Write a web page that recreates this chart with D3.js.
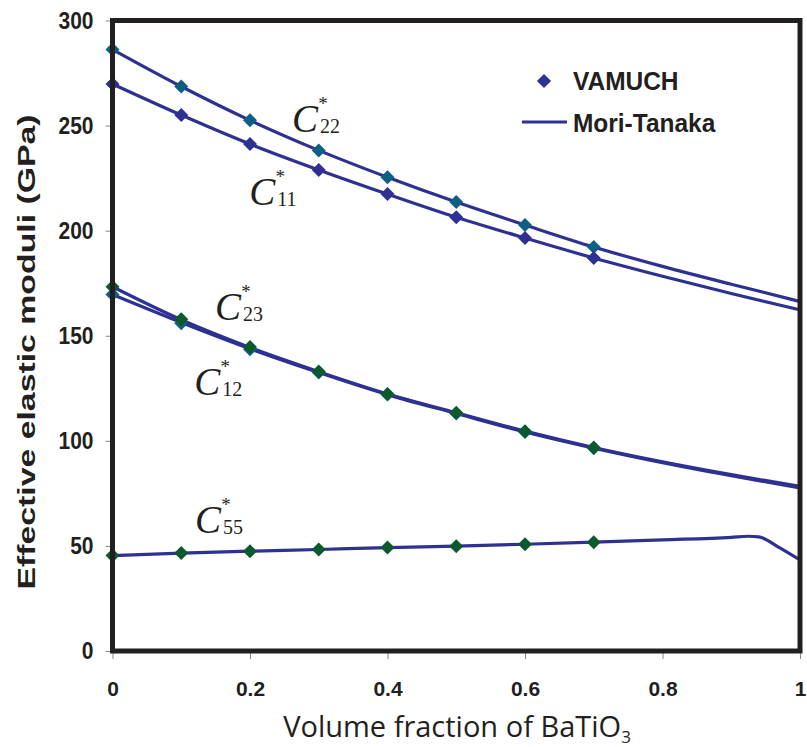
<!DOCTYPE html>
<html>
<head>
<meta charset="utf-8">
<script src="https://cdn.jsdelivr.net/npm/d3@7"></script>
<style>
  html, body { margin: 0; padding: 0; background: #fff; }
  svg { display: block; }
</style>
</head>
<body>
<svg id="chart" width="807" height="747"></svg>
<script>
// ---------- data ----------
const xTicks = [0, 0.2, 0.4, 0.6, 0.8, 1];
const xTickLabels = ["0", "0.2", "0.4", "0.6", "0.8", "1"];
const yTicks = [0, 50, 100, 150, 200, 250, 300];

// VAMUCH results (diamonds)
const vamX   = [0, 0.1, 0.2, 0.3, 0.4, 0.5, 0.6, 0.7];
const vamC22 = [286.2, 268.6, 252.5, 238.2, 225.4, 213.6, 202.7, 192.2];
const vamC11 = [269.8, 255.0, 241.2, 228.9, 217.4, 206.4, 196.5, 187.0];
const vamC12 = [169.6, 156.0, 143.6, 132.5, 122.0, 113.0, 104.2, 96.5];
const vamC23 = [173.3, 157.9, 144.6, 133.0, 122.3, 113.4, 104.6, 96.8];
const vamC55 = [45.4, 46.6, 47.5, 48.3, 49.2, 49.9, 50.8, 51.8];

// Mori-Tanaka predictions (lines)
const mtX   = [0, 0.1, 0.2, 0.3, 0.4, 0.5, 0.6, 0.7, 0.8, 0.9, 1.0];
const mtC22 = [286.2, 268.6, 252.5, 238.2, 225.4, 213.6, 202.7, 192.2, 183.0, 174.5, 166.3];
const mtC11 = [269.8, 255.0, 241.2, 228.9, 217.4, 206.4, 196.5, 187.0, 178.3, 170.1, 162.3];
const mtC12 = [169.6, 156.3, 143.8, 132.5, 122.0, 113.0, 104.2, 96.5, 89.6, 83.4, 77.6];
const mtC23 = [173.3, 157.6, 144.4, 132.9, 122.3, 113.4, 104.6, 96.8, 90.0, 83.9, 78.3];
const mtC55X = [0, 0.1, 0.2, 0.3, 0.4, 0.5, 0.6, 0.7, 0.8, 0.9, 0.925, 0.94, 0.97, 1.0];
const mtC55  = [45.4, 46.6, 47.5, 48.3, 49.2, 49.9, 50.8, 51.8, 52.9, 54.1, 54.6, 54.3, 49.2, 43.3];

// curve labels: subscript, anchor (data coords of the "C" left/baseline)
const labelNames = ["22", "11", "23", "12", "55"];
const labelX     = [0.261, 0.199, 0.149, 0.119, 0.120];
const labelY     = [247.0, 212.2, 157.5, 121.8, 56.1];

const legendNames = ["VAMUCH", "Mori-Tanaka"];

// ---------- styling ----------
const lineColor = "#2e3192";
const teal = "#0d5f83";
const green = "#0a5a2d";
const navy = "#2e3192";
const ink = "#231f20";

// ---------- layout ----------
const svg = d3.select("#chart");
const mLeft = 112.5, mRight = 800, mTop = 20.5, mBottom = 651;
const x = d3.scaleLinear().domain([0, 1]).range([mLeft, mRight]);
const y = d3.scaleLinear().domain([0, 300]).range([mBottom, mTop]);

// ticks + labels via axes
const xAxis = d3.axisBottom(x).tickValues(xTicks).tickSize(8).tickPadding(22)
  .tickFormat((d, i) => xTickLabels[i]);
const gx = svg.append("g").attr("transform", `translate(0,${mBottom})`).call(xAxis);
gx.select(".domain").remove();
gx.selectAll(".tick line").attr("stroke", "#888").attr("stroke-width", 1);
gx.selectAll(".tick text")
  .attr("font-family", "Liberation Sans, Arial, sans-serif")
  .attr("font-weight", "bold").attr("font-size", 21).attr("fill", ink);

const yAxis = d3.axisLeft(y).tickValues(yTicks).tickSize(7).tickPadding(12);
const gy = svg.append("g").attr("transform", `translate(${mLeft},0)`).call(yAxis);
gy.select(".domain").remove();
gy.selectAll(".tick line").attr("stroke", "#888").attr("stroke-width", 1);
gy.selectAll(".tick text")
  .attr("font-family", "Liberation Sans, Arial, sans-serif")
  .attr("font-weight", "bold").attr("font-size", 21).attr("fill", ink)
  .attr("transform", "scale(1,1.13)");

// lines
const line = d3.line().x(d => x(d[0])).y(d => y(d[1])).curve(d3.curveMonotoneX);
const mtSeries = [
  d3.zip(mtX, mtC22), d3.zip(mtX, mtC11),
  d3.zip(mtX, mtC12), d3.zip(mtX, mtC23),
  d3.zip(mtC55X, mtC55)
];
svg.append("g").selectAll("path").data(mtSeries).join("path")
  .attr("d", line).attr("fill", "none")
  .attr("stroke", lineColor).attr("stroke-width", 3.2)
  .attr("stroke-linejoin", "round");

// diamonds
const diamond = d3.symbol().type(d3.symbolSquare).size(98);
const vamSeries = [
  {vals: vamC22, color: teal},
  {vals: vamC11, color: navy},
  {vals: vamC12, color: teal},
  {vals: vamC23, color: green},
  {vals: vamC55, color: green}
];
vamSeries.forEach(s => {
  svg.append("g").selectAll("path").data(d3.zip(vamX, s.vals)).join("path")
    .attr("d", diamond)
    .attr("transform", d => `translate(${x(d[0])},${y(d[1])}) rotate(45)`)
    .attr("fill", s.color);
});

// frame
svg.append("rect")
  .attr("x", mLeft).attr("y", mTop)
  .attr("width", mRight - mLeft).attr("height", mBottom - mTop)
  .attr("fill", "none").attr("stroke", ink).attr("stroke-width", 5);

// curve labels
labelNames.forEach((name, i) => {
  const px = x(labelX[i]), py = y(labelY[i]);
  const g = svg.append("g").attr("fill", ink)
    .attr("font-family", "Liberation Serif, Times New Roman, serif");
  g.append("text").attr("x", px).attr("y", py)
    .attr("font-style", "italic").attr("font-size", 39).text("C");
  g.append("text").attr("x", px + 28).attr("y", py + 1)
    .attr("font-size", 20).text(name);
  g.append("text").attr("x", px + 31).attr("y", py - 22)
    .attr("text-anchor", "middle").attr("font-size", 19).text("*");
});

// legend
const leg = svg.append("g")
  .attr("font-family", "Liberation Sans, Arial, sans-serif")
  .attr("font-weight", "bold").attr("font-size", 24).attr("fill", ink);
leg.append("path").attr("d", d3.symbol().type(d3.symbolSquare).size(100))
  .attr("transform", "translate(544,81) rotate(45)").attr("fill", navy);
leg.append("text").attr("x", 573).attr("y", 90)
  .attr("transform", "translate(573,90) scale(1.02,1.1) translate(-573,-90)")
  .text(legendNames[0]);
leg.append("line").attr("x1", 522).attr("x2", 567).attr("y1", 122).attr("y2", 122)
  .attr("stroke", lineColor).attr("stroke-width", 3.2);
leg.append("text").attr("x", 573).attr("y", 132)
  .attr("transform", "translate(573,132) scale(1.02,1.1) translate(-573,-132)")
  .text(legendNames[1]);

// axis titles
svg.append("text")
  .attr("transform", "translate(35,352) rotate(-90) scale(1.47,1)")
  .attr("text-anchor", "middle")
  .attr("font-family", "Liberation Sans, Arial, sans-serif")
  .attr("font-weight", "bold").attr("font-size", 23).attr("fill", ink)
  .text("Effective elastic moduli (GPa)");

const xt = svg.append("text")
  .attr("x", 457).attr("y", 737)
  .attr("text-anchor", "middle")
  .attr("font-family", "Open Sans, Noto Sans, sans-serif")
  .attr("font-size", 29).attr("fill", ink);
xt.append("tspan").text("Volume fraction of BaTiO");
xt.append("tspan").attr("font-size", 17).attr("dy", 6).text("3");
</script>
</body>
</html>
